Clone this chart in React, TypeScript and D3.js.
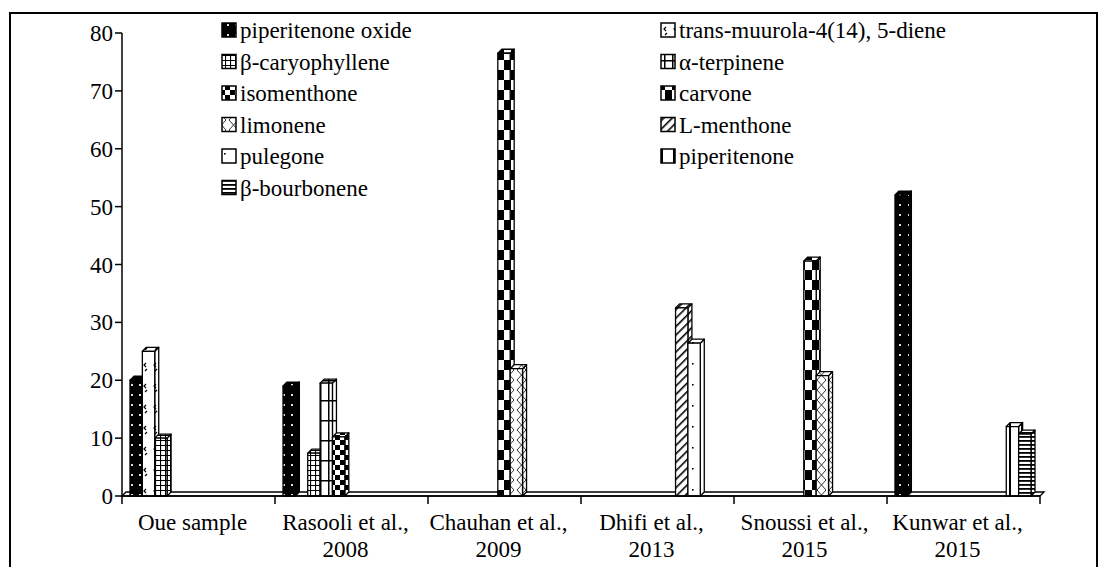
import * as d3 from "d3";

const categories: string[][] = [
  ["Oue sample"],
  ["Rasooli et al.,", "2008"],
  ["Chauhan et al.,", "2009"],
  ["Dhifi et al.,", "2013"],
  ["Snoussi et al.,", "2015"],
  ["Kunwar et al.,", "2015"],
];

const seriesNames = [
  "piperitenone oxide",
  "trans-muurola-4(14), 5-diene",
  "β-caryophyllene",
  "α-terpinene",
  "isomenthone",
  "carvone",
  "limonene",
  "L-menthone",
  "pulegone",
  "piperitenone",
  "β-bourbonene",
];

// one value per study, in the order of categories
const piperitenoneOxide = [20, 19, 0, 0, 0, 52];
const transMuurola = [25, 0, 0, 0, 0, 0];
const caryophyllene = [10, 7.4, 0, 0, 0, 0];
const terpinene = [0, 19.5, 0, 0, 0, 0];
const isomenthone = [0, 10.2, 0, 0, 0, 0];
const carvone = [0, 0, 76.5, 0, 40.6, 0];
const limonene = [0, 0, 22, 0, 20.8, 0];
const menthone = [0, 0, 0, 32.5, 0, 0];
const pulegone = [0, 0, 0, 26.4, 0, 0];
const piperitenone = [0, 0, 0, 0, 0, 12];
const bourbonene = [0, 0, 0, 0, 0, 10.7];

const seriesValues = [
  piperitenoneOxide,
  transMuurola,
  caryophyllene,
  terpinene,
  isomenthone,
  carvone,
  limonene,
  menthone,
  pulegone,
  piperitenone,
  bourbonene,
];

const yTicks = [0, 10, 20, 30, 40, 50, 60, 70, 80];

const textStyle = { fontFamily: '"Liberation Serif", "Times New Roman", serif' };

const Patterns = () => (
  <defs>
    <pattern id="p0" patternUnits="userSpaceOnUse" width="8" height="10">
      <rect width="8" height="10" fill="#000" />
      <rect x="3" y="4" width="2" height="2" fill="#ddd" />
    </pattern>
    <pattern id="p1" patternUnits="userSpaceOnUse" width="10" height="21">
      <rect width="10" height="21" fill="#fff" />
      <path d="M6,6 L4,8 L6,10 M7,12 L5,14" stroke="#000" strokeWidth="1.2" fill="none" />
    </pattern>
    <pattern id="p2" patternUnits="userSpaceOnUse" width="5" height="5">
      <rect width="5" height="5" fill="#fff" />
      <path d="M0,0.5 H5 M0.5,0 V5" stroke="#000" strokeWidth="1.2" />
    </pattern>
    <pattern id="p3" patternUnits="userSpaceOnUse" width="8" height="20">
      <rect width="8" height="20" fill="#fff" />
      <path d="M0,0.75 H8 M0.75,0 V20" stroke="#000" strokeWidth="1.5" />
    </pattern>
    <pattern id="p4" patternUnits="userSpaceOnUse" width="10" height="10">
      <rect width="10" height="10" fill="#fff" />
      <rect width="5" height="5" fill="#000" />
      <rect x="5" y="5" width="5" height="5" fill="#000" />
    </pattern>
    <pattern id="p5" patternUnits="userSpaceOnUse" width="14" height="20">
      <rect width="14" height="20" fill="#fff" />
      <rect width="7" height="10" fill="#000" />
      <rect x="7" y="10" width="7" height="10" fill="#000" />
    </pattern>
    <pattern id="p6" patternUnits="userSpaceOnUse" width="12" height="20">
      <rect width="12" height="20" fill="#fff" />
      <path d="M1,0 L10,10 L1,20 M10,0 L1,10 L10,20" stroke="#333" strokeWidth="1" fill="none" />
    </pattern>
    <pattern id="p7" patternUnits="userSpaceOnUse" width="6" height="6" patternTransform="rotate(45)">
      <rect width="6" height="6" fill="#fff" />
      <rect width="1.6" height="6" fill="#000" />
    </pattern>
    <pattern id="p8" patternUnits="userSpaceOnUse" width="12" height="21">
      <rect width="12" height="21" fill="#fff" />
      <rect x="8" y="6" width="1.6" height="1.6" fill="#000" />
    </pattern>
    <pattern id="p9" patternUnits="userSpaceOnUse" width="12" height="12">
      <rect width="12" height="12" fill="#fff" />
      <rect x="1" width="2" height="12" fill="#000" />
    </pattern>
    <pattern id="p10" patternUnits="userSpaceOnUse" width="4" height="4">
      <rect width="4" height="4" fill="#fff" />
      <rect width="4" height="1.8" fill="#000" />
    </pattern>
  </defs>
);

export default function App() {
  const W = 1104;
  const H = 567;
  const depth = 4;
  const fs = 23;

  const xGroup = d3
    .scaleBand<number>()
    .domain(d3.range(categories.length))
    .range([122, 1040]);

  const xSeries = d3
    .scaleBand<number>()
    .domain(d3.range(seriesNames.length))
    .range([8, xGroup.bandwidth() - 9]);

  const y = d3.scaleLinear().domain([0, 80]).range([496, 33]);
  const y0 = y(0);
  const bw = xSeries.bandwidth();

  const bars: JSX.Element[] = [];
  categories.forEach((_, ci) => {
    seriesValues.forEach((vals, si) => {
      const v = vals[ci];
      if (!v) return;
      const x0 = (xGroup(ci) as number) + (xSeries(si) as number);
      const x1 = x0 + bw;
      const yv = y(v);
      const fill = `url(#p${si})`;
      bars.push(
        <g key={`${ci}-${si}`} stroke="#000" strokeWidth={1.3} strokeLinejoin="round">
          <path
            d={`M${x1},${yv} L${x1 + depth},${yv - depth} L${x1 + depth},${y0 - depth} L${x1},${y0} Z`}
            fill={fill}
          />
          <path
            d={`M${x0},${yv} L${x0 + depth},${yv - depth} L${x1 + depth},${yv - depth} L${x1},${yv} Z`}
            fill={fill}
          />
          <rect x={x0} y={yv} width={bw} height={y0 - yv} fill={fill} />
        </g>
      );
    });
  });

  const x0Axis = 122;
  const x1Axis = 1040;

  return (
    <svg
      width={W}
      height={H}
      viewBox={`0 0 ${W} ${H}`}
      style={{ position: "absolute", left: 0, top: 0, background: "#fff" }}
    >
      <Patterns />
      <rect x={10} y={13} width={1087} height={600} fill="none" stroke="#000" strokeWidth={2} />

      {/* floor */}
      <path
        d={`M${x0Axis},${y0} L${x0Axis + depth},${y0 - depth} L${x1Axis + depth},${y0 - depth} L${x1Axis},${y0} Z`}
        fill="#fff"
        stroke="#000"
        strokeWidth={1.3}
      />

      {bars}

      {/* y axis */}
      <line x1={x0Axis} x2={x0Axis} y1={y(80)} y2={y0} stroke="#000" strokeWidth={1.5} />
      {yTicks.map((t) => (
        <g key={t}>
          <line x1={x0Axis - 7} x2={x0Axis} y1={y(t)} y2={y(t)} stroke="#000" strokeWidth={1.5} />
          <text x={x0Axis - 9} y={y(t)} dy="0.35em" textAnchor="end" fontSize={fs} style={textStyle}>
            {t}
          </text>
        </g>
      ))}

      {/* x axis */}
      <line x1={x0Axis} x2={x1Axis} y1={y0} y2={y0} stroke="#000" strokeWidth={1.5} />
      {d3.range(categories.length + 1).map((i) => {
        const xx = i < categories.length ? (xGroup(i) as number) : x1Axis;
        return <line key={i} x1={xx} x2={xx} y1={y0} y2={y0 + 8} stroke="#000" strokeWidth={1.5} />;
      })}
      {categories.map((lines, ci) => {
        const cx = (xGroup(ci) as number) + xGroup.bandwidth() / 2 - 6;
        return (
          <text key={ci} x={cx} y={530} textAnchor="middle" fontSize={fs} style={textStyle}>
            {lines.map((l, li) => (
              <tspan key={li} x={cx} dy={li === 0 ? 0 : 27}>
                {l}
              </tspan>
            ))}
          </text>
        );
      })}

      {/* legend */}
      {seriesNames.map((name, si) => {
        const col = si % 2;
        const row = Math.floor(si / 2);
        const sx = col === 0 ? 222 : 661;
        const cy = 30 + row * 31.5;
        return (
          <g key={name}>
            <rect
              x={sx}
              y={cy - 7}
              width={14}
              height={14}
              fill={`url(#p${si})`}
              stroke="#000"
              strokeWidth={1.5}
            />
            <text x={sx + 18} y={cy} dy="0.35em" fontSize={fs} style={textStyle}>
              {name}
            </text>
          </g>
        );
      })}
    </svg>
  );
}
